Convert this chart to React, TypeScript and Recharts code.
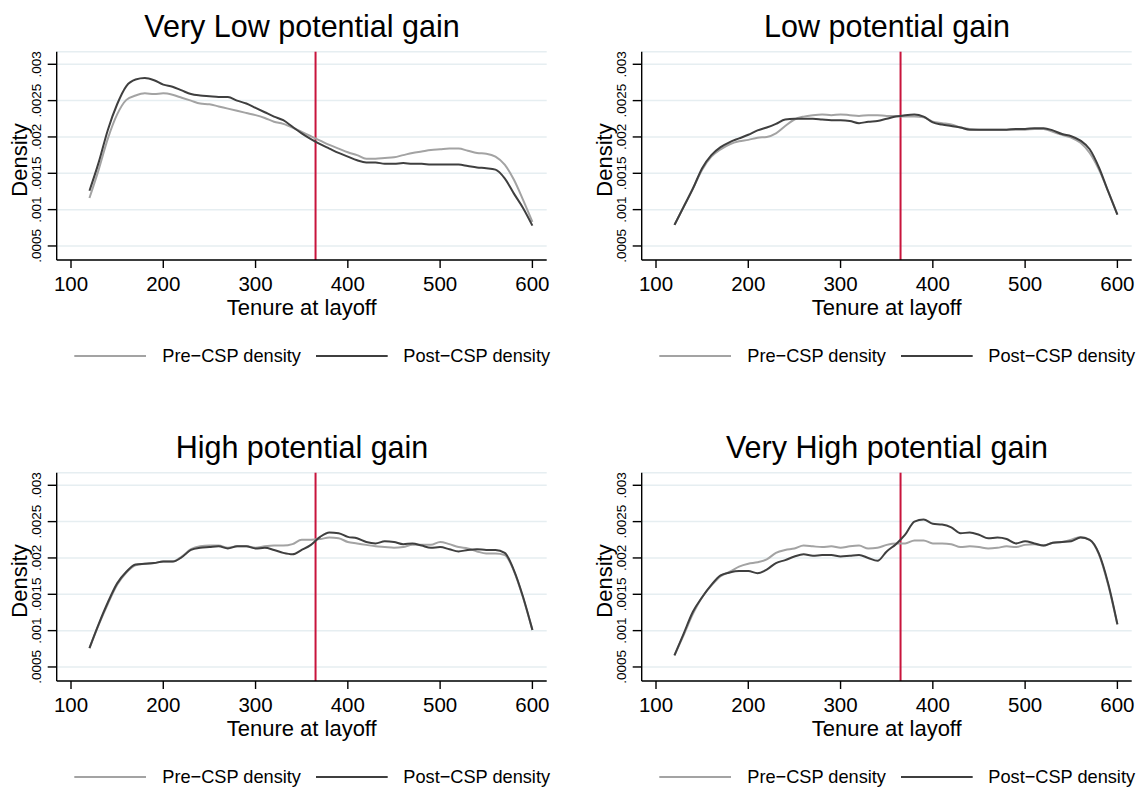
import { CartesianGrid, Line, LineChart, ReferenceLine, XAxis, YAxis } from 'recharts';

const TENURE = [
  120, 130, 140, 150, 160, 170, 180, 190, 200, 210, 220, 230, 240, 250, 260, 270, 280,
  290, 300, 310, 320, 330, 340, 350, 360, 370, 380, 390, 400, 410, 420, 430, 440, 450,
  460, 470, 480, 490, 500, 510, 520, 530, 540, 550, 560, 570, 580, 590, 600,
];

const VERY_LOW_PRE = [
  0.00116, 0.00155, 0.00198, 0.00231, 0.00251, 0.00257, 0.0026, 0.00259, 0.0026, 0.00258,
  0.00254, 0.0025, 0.00246, 0.00245, 0.00242, 0.00239, 0.00236, 0.00233, 0.0023, 0.00226,
  0.00221, 0.00218, 0.00213, 0.00207, 0.00201, 0.00195, 0.00189, 0.00184, 0.00179, 0.00175,
  0.0017, 0.0017, 0.00171, 0.00172, 0.00175, 0.00178, 0.0018, 0.00182, 0.00183, 0.00184,
  0.00184, 0.00181, 0.00178, 0.00177, 0.00173, 0.00162, 0.00141, 0.00113, 0.00083,
];
const VERY_LOW_POST = [
  0.00126, 0.00165, 0.0021, 0.00245, 0.0027, 0.00279, 0.00281, 0.00278, 0.00272, 0.00269,
  0.00264, 0.00259, 0.00257, 0.00256, 0.00255, 0.00255, 0.0025, 0.00246, 0.0024, 0.00234,
  0.00228, 0.00223, 0.00214, 0.00205, 0.00197, 0.0019, 0.00184, 0.00178, 0.00173, 0.00168,
  0.00165, 0.00165, 0.00163, 0.00163, 0.00164, 0.00163, 0.00163, 0.00162, 0.00162, 0.00162,
  0.00162, 0.0016, 0.00158, 0.00157, 0.00155, 0.00143, 0.00122, 0.00102, 0.00078,
];

const LOW_PRE = [
  0.00079, 0.00104, 0.00129, 0.00155, 0.00173, 0.00183, 0.0019, 0.00194, 0.00196, 0.00199,
  0.002, 0.00205, 0.00215, 0.00224, 0.00228, 0.0023, 0.00231, 0.0023, 0.00231, 0.0023,
  0.00229, 0.0023, 0.0023, 0.00229, 0.00229, 0.00228, 0.00228, 0.00227, 0.00221, 0.00219,
  0.00217, 0.00213, 0.00211, 0.0021, 0.0021, 0.0021, 0.0021, 0.0021, 0.0021, 0.00211,
  0.00211, 0.00207, 0.00203, 0.00199, 0.00192, 0.00178, 0.00155, 0.00125, 0.00093,
];
const LOW_POST = [
  0.00079, 0.00104, 0.00129, 0.00157, 0.00175, 0.00186, 0.00193, 0.00198, 0.00203, 0.00209,
  0.00213, 0.00218, 0.00224, 0.00225, 0.00225, 0.00225, 0.00224, 0.00223, 0.00223, 0.00222,
  0.00219, 0.00221, 0.00222, 0.00225, 0.00228, 0.0023, 0.00231, 0.00228, 0.0022, 0.00217,
  0.00215, 0.00213, 0.0021, 0.0021, 0.0021, 0.0021, 0.0021, 0.00211, 0.00211, 0.00212,
  0.00212, 0.00209, 0.00204, 0.00201, 0.00195, 0.00183, 0.00158, 0.00125, 0.00093,
];

const HIGH_PRE = [
  0.00076, 0.00108, 0.00137, 0.00163, 0.0018, 0.0019, 0.00192, 0.00193, 0.00195, 0.00195,
  0.00202, 0.00212, 0.00216, 0.00217, 0.00217, 0.00214, 0.00216, 0.00216, 0.00214, 0.00216,
  0.00217, 0.00217, 0.00219, 0.00225, 0.00225, 0.00226, 0.00228, 0.00227, 0.00222, 0.0022,
  0.00218, 0.00216, 0.00215, 0.00214, 0.00215, 0.00218, 0.00218, 0.00218, 0.00222, 0.00219,
  0.00215, 0.00213, 0.00209, 0.00206, 0.00206, 0.00204, 0.00182, 0.00145, 0.00101,
];
const HIGH_POST = [
  0.00076, 0.00109, 0.00139, 0.00165, 0.00181, 0.00191, 0.00192, 0.00193, 0.00195, 0.00195,
  0.00201, 0.00211, 0.00214, 0.00215, 0.00216, 0.00213, 0.00216, 0.00216, 0.00213, 0.00214,
  0.00211, 0.00207, 0.00205, 0.00211, 0.00218, 0.00229, 0.00235, 0.00234, 0.00229, 0.00227,
  0.00222, 0.0022, 0.00223, 0.00222, 0.00219, 0.0022, 0.00217, 0.00214, 0.00215, 0.00212,
  0.00209, 0.00211, 0.00212, 0.00211, 0.00211, 0.00207, 0.00183, 0.00146, 0.00101,
];

const VERY_HIGH_PRE = [
  0.00066, 0.00094, 0.00123, 0.00146, 0.00162, 0.00175, 0.00181, 0.00188, 0.00192, 0.00194,
  0.00198, 0.00207, 0.00211, 0.00213, 0.00217, 0.00216, 0.00215, 0.00216, 0.00214, 0.00216,
  0.00217, 0.00213, 0.00214, 0.00218, 0.0022, 0.0022, 0.00224, 0.00224, 0.0022, 0.0022,
  0.00219, 0.00215, 0.00216, 0.00215, 0.00213, 0.00214, 0.00216, 0.00215, 0.00218, 0.00219,
  0.00217, 0.00221, 0.00222, 0.00225, 0.00229, 0.00225, 0.00205, 0.00163, 0.00108,
];
const VERY_HIGH_POST = [
  0.00066, 0.00096, 0.00126, 0.00146, 0.00163, 0.00176, 0.0018, 0.00182, 0.00182, 0.00179,
  0.00184, 0.00193, 0.00197, 0.00202, 0.00205, 0.00203, 0.00204, 0.00204, 0.00202, 0.00203,
  0.00204, 0.002, 0.00196, 0.00209, 0.00219, 0.00232, 0.0025, 0.00253, 0.00247, 0.00246,
  0.00242, 0.00234, 0.00235, 0.00232, 0.00227, 0.00228, 0.00226, 0.0022, 0.00223, 0.0022,
  0.00217, 0.00221, 0.00222, 0.00223, 0.00228, 0.00225, 0.00206, 0.00165, 0.00109,
];

const X_TICKS = [100, 200, 300, 400, 500, 600];
const Y_TICKS = [0.0005, 0.001, 0.0015, 0.002, 0.0025, 0.003];
const CUTOFF = 365;

const FONT = '"Liberation Sans", Arial, Helvetica, sans-serif';
const PRE_COLOR = '#a3a3a3';
const POST_COLOR = '#3f3f3f';

// stata style: ".0025" instead of "0.0025"
const fmtY = (v: number) => String(v).replace(/^0/, '');

function YTick(props: any) {
  const { x, y, payload } = props;
  return (
    <text
      transform={`translate(${x - 7}, ${y}) rotate(-90)`}
      textAnchor="middle"
      fontSize={13.5}
      fontFamily={FONT}
      fill="#000"
    >
      {fmtY(payload.value)}
    </text>
  );
}

function Panel({ title, pre, post, left, top }: { title: string; pre: number[]; post: number[]; left: number; top: number }) {
  const data = TENURE.map((t, i) => ({ t, pre: pre[i], post: post[i] }));
  return (
    <div style={{ position: 'absolute', left, top, width: 572, height: 370 }}>
      <LineChart
        width={572}
        height={300}
        data={data}
        margin={{ top: 51.7, right: 25.3, left: 6.7, bottom: 10 }}
      >
        <CartesianGrid vertical={false} stroke="#e6eef1" strokeWidth={1.5} />
        <XAxis
          dataKey="t"
          type="number"
          domain={[84.5, 615.5]}
          ticks={X_TICKS}
          height={30}
          tickSize={8}
          tickMargin={8}
          axisLine={{ stroke: '#000', strokeWidth: 1.4 }}
          tickLine={{ stroke: '#000', strokeWidth: 1.4 }}
          tick={{ fill: '#000', fontSize: 20.5, fontFamily: FONT }}
        />
        <YAxis
          type="number"
          domain={[0.000307, 0.003173]}
          allowDataOverflow
          ticks={Y_TICKS}
          width={50}
          tickSize={9}
          tickMargin={0}
          axisLine={{ stroke: '#000', strokeWidth: 1.4 }}
          tickLine={{ stroke: '#000', strokeWidth: 1.4 }}
          tick={<YTick />}
        />
        <ReferenceLine x={CUTOFF} stroke="#c8143c" strokeWidth={2} />
        <Line type="monotone" dataKey="pre" stroke={PRE_COLOR} strokeWidth={2} dot={false} activeDot={false} isAnimationActive={false} />
        <Line type="monotone" dataKey="post" stroke={POST_COLOR} strokeWidth={2} dot={false} activeDot={false} isAnimationActive={false} />
      </LineChart>
      <svg
        width={572}
        height={370}
        style={{ position: 'absolute', left: 0, top: 0, pointerEvents: 'none' }}
        fontFamily={FONT}
      >
        <text x={302} y={36.7} textAnchor="middle" fontSize={30.5} fill="#000">{title}</text>
        <text x={301.7} y={314.5} textAnchor="middle" fontSize={22} fill="#000">Tenure at layoff</text>
        <text transform="translate(27, 160) rotate(-90)" textAnchor="middle" fontSize={22} fill="#000">Density</text>
        <line x1={74.3} x2={146} y1={356} y2={356} stroke={PRE_COLOR} strokeWidth={2} />
        <text x={162.3} y={362.3} fontSize={18.2} fill="#000">Pre−CSP density</text>
        <line x1={316} x2={387.7} y1={356} y2={356} stroke={POST_COLOR} strokeWidth={2} />
        <text x={403.3} y={362.3} fontSize={18.2} fill="#000">Post−CSP density</text>
      </svg>
    </div>
  );
}

export default function App() {
  return (
    <div style={{ position: 'absolute', left: 0, top: 0, width: 1144, height: 789, background: '#fff', overflow: 'hidden' }}>
      <Panel title="Very Low potential gain" pre={VERY_LOW_PRE} post={VERY_LOW_POST} left={0} top={0} />
      <Panel title="Low potential gain" pre={LOW_PRE} post={LOW_POST} left={585} top={0} />
      <Panel title="High potential gain" pre={HIGH_PRE} post={HIGH_POST} left={0} top={420.5} />
      <Panel title="Very High potential gain" pre={VERY_HIGH_PRE} post={VERY_HIGH_POST} left={585} top={420.5} />
    </div>
  );
}
